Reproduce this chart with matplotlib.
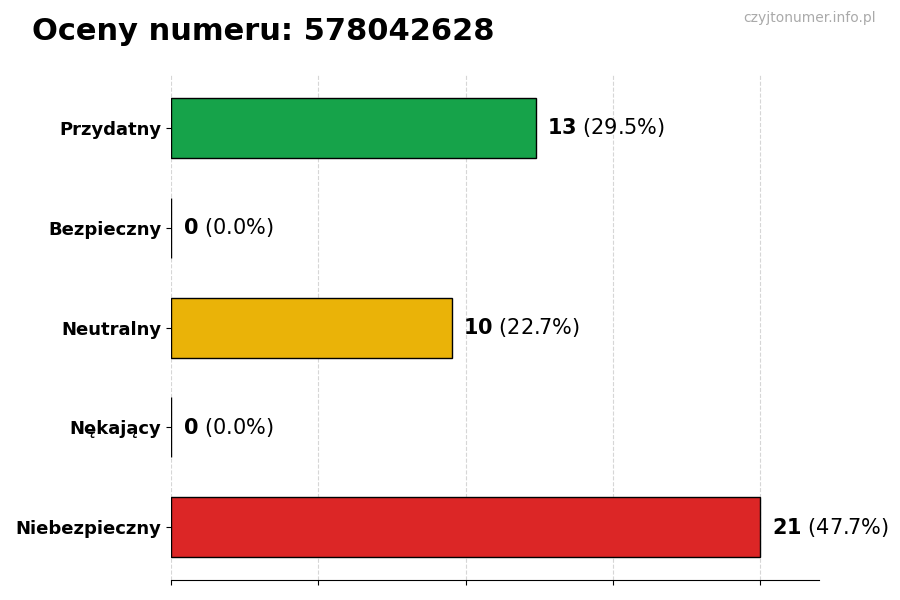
import matplotlib
matplotlib.use('Agg')
import numpy as np
import matplotlib.pyplot as plt

categories = ['Przydatny', 'Bezpieczny', 'Neutralny', 'Nękający', 'Niebezpieczny']
counts = [13, 0, 10, 0, 21]
colors = ['#16a34a', '#22c55e', '#eab308', '#f97316', '#dc2626']
title = 'Oceny numeru: 578042628'
watermark = 'czyjtonumer.info.pl'

total = sum(counts)
plt.rcParams['mathtext.fontset'] = 'dejavusans'

fig = plt.figure(figsize=(9, 6), dpi=100)
ax = fig.add_axes([0.19, 0.033, 0.72, 0.842])

y = np.arange(len(categories))[::-1]
ax.barh(y, counts, height=0.6, color=colors, edgecolor='black', linewidth=1, zorder=3)

max_val = max(counts)
ax.set_xlim(0, max_val * 1.1)
ax.set_xticks(np.linspace(0, max_val, 5))
ax.set_xticklabels([])
ax.set_yticks(y)
ax.set_yticklabels(categories, fontsize=13, fontweight='bold')
ax.grid(axis='x', linestyle='--', color='#cccccc', alpha=0.8, zorder=0)

for s in ['top', 'right', 'left']:
    ax.spines[s].set_visible(False)

for yi, c in zip(y, counts):
    pct = c / total * 100
    ax.text(c + max_val * 0.02, yi, r'$\bf{%d}$ (%.1f%%)' % (c, pct),
            va='center', ha='left', fontsize=15, zorder=4)

fig.text(0.035, 0.947, title, fontsize=22, fontweight='bold', ha='left', va='center')
fig.text(0.973, 0.970, watermark, fontsize=10, color='#aaaaaa', ha='right', va='center')

fig.savefig('out.png', dpi=100)
